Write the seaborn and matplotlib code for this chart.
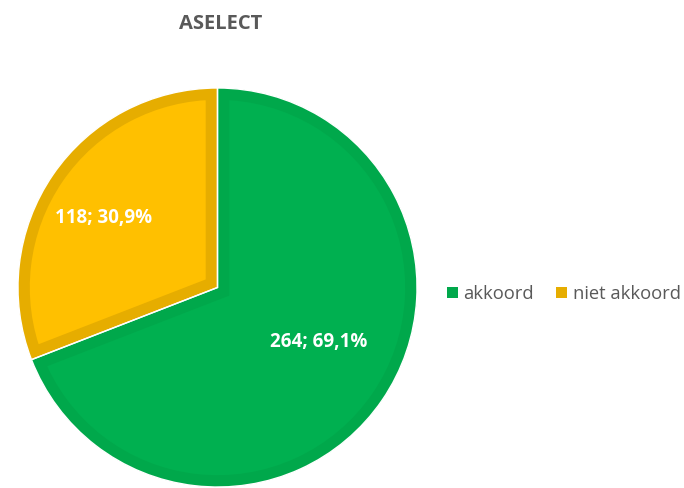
import numpy as np
import matplotlib
matplotlib.use("Agg")
import matplotlib.pyplot as plt
from matplotlib.patches import Patch, Wedge
import seaborn as sns

# data
labels = ["akkoord", "niet akkoord"]
counts = [264, 118]
fills = ["#00B050", "#FFC000"]
edges = ["#00A84B", "#E6AD00"]
title = "ASELECT"

sns.set_theme(style="white")
plt.rcParams["font.family"] = ["Open Sans", "DejaVu Sans"]

fig = plt.figure(figsize=(6.84, 4.88), dpi=100)
ax = fig.add_axes([17 / 684, 0 / 488, 401 / 684, 401 / 488])

total = sum(counts)


def fmt(pct):
    n = round(pct * total / 100)
    return f"{n}; {pct:.1f}%".replace(".", ",")


wedges, texts, autotexts = ax.pie(
    counts, colors=fills, startangle=90, counterclock=False,
    autopct=fmt, pctdistance=0.6, radius=1,
    wedgeprops=dict(linewidth=0),
    textprops=dict(color="white", fontsize=13.5, fontweight="bold"))

# darker inner border per slice, clipped to the slice
for w, ec in zip(wedges, edges):
    b = Wedge(w.center, w.r, w.theta1, w.theta2, facecolor="none",
              edgecolor=ec, linewidth=17, zorder=w.get_zorder() + 0.1)
    ax.add_patch(b)
    b.set_clip_on(True)
    b.set_clip_path(w)

# label positions per slice (distance, angle nudge in degrees)
for w, t, d, da in zip(wedges, autotexts, [0.575, 0.67], [6, 3]):
    a = np.deg2rad((w.theta1 + w.theta2) / 2 + da)
    t.set_position((d * np.cos(a), d * np.sin(a)))
    t.set_zorder(5)

# thin white separators
for w in wedges:
    ax.add_patch(Wedge(w.center, w.r, w.theta1, w.theta2, fill=False,
                       edgecolor="white", linewidth=1.0, zorder=4))

ax.set_xlim(-1.005, 1.005)
ax.set_ylim(-1.005, 1.005)
ax.set_aspect("equal")
ax.axis("off")

fig.text(221 / 684, 1 - 24 / 488, title, ha="center", va="center",
         fontsize=14.5, fontweight="bold", color="#595959")

handles = [Patch(facecolor=c, edgecolor="none") for c in edges]
fig.legend(handles, labels, loc="center left", bbox_to_anchor=(447 / 684, 1 - 294 / 488),
           ncol=2, frameon=False, fontsize=13.2, labelcolor="#595959",
           borderpad=0, borderaxespad=0,
           handlelength=0.6, handleheight=0.6, handletextpad=0.3, columnspacing=1.2)

fig.savefig("out.png", dpi=100)
